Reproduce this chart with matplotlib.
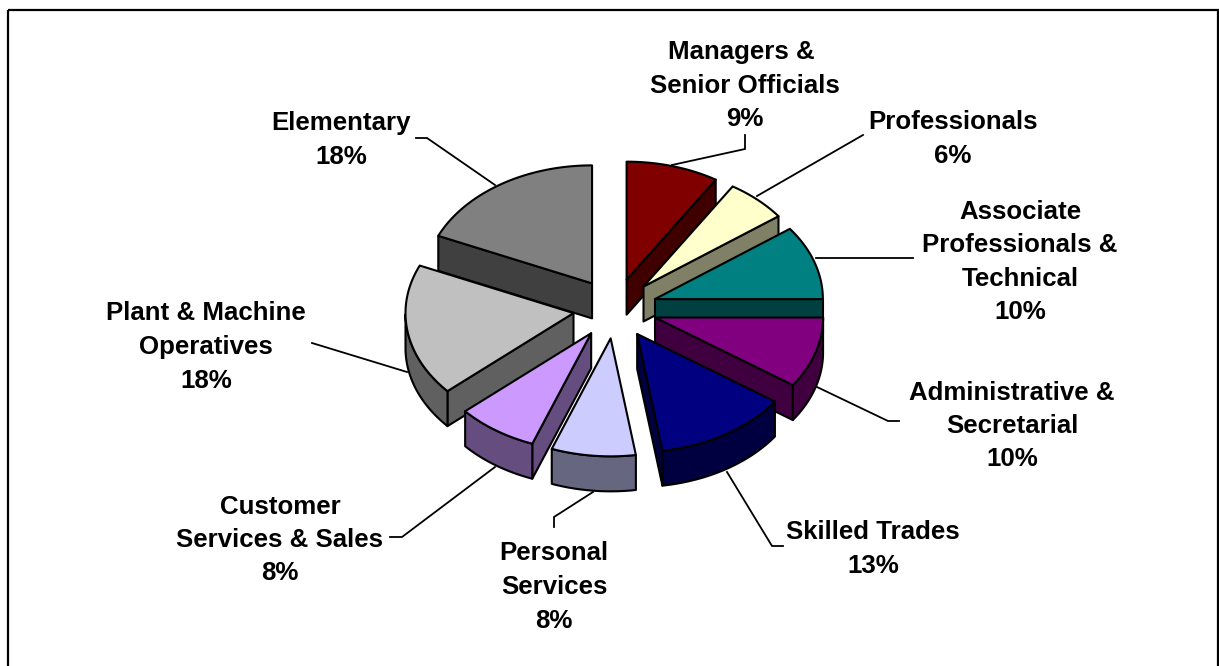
import matplotlib
matplotlib.use("Agg")
import matplotlib.pyplot as plt
from matplotlib.patches import Polygon, Rectangle
import numpy as np

plt.rcParams["font.family"] = ["Liberation Sans", "DejaVu Sans"]

categories = ["Managers & \nSenior Officials", "Professionals", "Associate\nProfessionals &\nTechnical",
              "Administrative &\nSecretarial", "Skilled Trades", "Personal\nServices",
              "Customer\nServices & Sales", "Plant & Machine\nOperatives", "Elementary"]
values = [8.9, 5.95, 10.15, 9.7, 12.9, 8.1, 7.8, 18.1, 18.4]
top_colors = ["#800000", "#FFFFCC", "#008080", "#800080", "#000080", "#CCCCFF", "#CC99FF", "#C0C0C0", "#808080"]
side_colors = ["#400000", "#808066", "#004040", "#400040", "#000040", "#666680", "#664D80", "#606060", "#404040"]
# painter's order: back slices first
draw_order = [0, 1, 2, 3, 4, 8, 7, 6, 5]

label_pos = [(745, 86), (953, 139), (1020, 262), (1012, 426), (873, 549),
             (554, 587), (280, 540), (206, 347), (341, 140)]
leaders = [[(745, 135), (745, 149), (672, 165)],
           [(863, 135), (757, 196)],
           [(816, 258), (913, 258)],
           [(817, 387), (888, 421), (899, 421)],
           [(727, 472), (772, 546), (783, 546)],
           [(593, 492), (554, 517), (554, 527)],
           [(495, 467), (402, 537), (390, 537)],
           [(407, 372), (312, 343)],
           [(495, 185), (427, 138), (416, 138)]]

cx, cy = 615, 308.5
rx, ry = 168, 118
ex, ey = 42, 30
depth = 35

fig = plt.figure(figsize=(12.19, 6.66), dpi=100)
ax = fig.add_axes([0, 0, 1, 1])
ax.set_xlim(0, 1219)
ax.set_ylim(666, 0)
ax.axis("off")

ax.add_patch(Rectangle((7.5, 9.5), 1210, 670, fill=False, ec="black", lw=1.6, zorder=0))

for pts in leaders:
    xs, ys = zip(*pts)
    ax.plot(xs, ys, color="black", lw=1.3, zorder=1, solid_joinstyle="miter")

edges = np.cumsum([0] + values) / sum(values) * 360


def pt(x0, y0, deg):
    t = np.radians(deg)
    return x0 + rx * np.sin(t), y0 - ry * np.cos(t)


def face(points, color, z):
    ax.add_patch(Polygon(points, closed=True, fc=color, ec="black", lw=1.5, joinstyle="round", zorder=z))


z = 2
for i in draw_order:
    a0, a1 = edges[i], edges[i + 1]
    mid = np.radians((a0 + a1) / 2)
    ax0 = cx + ex * np.sin(mid)
    ay0 = cy - ey * np.cos(mid)
    thetas = np.linspace(a0, a1, 60)
    arc = [pt(ax0, ay0, t) for t in thetas]

    # side faces that look towards the viewer
    front = [t for t in thetas if 90 <= t <= 270]
    start, end = arc[0], arc[-1]
    if start[0] < ax0:
        face([(ax0, ay0), start, (start[0], start[1] + depth), (ax0, ay0 + depth)], side_colors[i], z)
    if end[0] > ax0:
        face([(ax0, ay0), end, (end[0], end[1] + depth), (ax0, ay0 + depth)], side_colors[i], z)
    if len(front) > 1:
        upper = [pt(ax0, ay0, t) for t in front]
        lower = [(x, y + depth) for x, y in upper[::-1]]
        face(upper + lower, side_colors[i], z)
    face([(ax0, ay0)] + arc, top_colors[i], z + 0.5)
    z += 1

for name, val, (x, y) in zip(categories, values, label_pos):
    ax.text(x, y, f"{name}\n{val:.0f}%", ha="center", va="center", fontsize=18.6, fontweight="bold",
            linespacing=1.5, color="black", zorder=30)

fig.savefig("out.png", dpi=100)
